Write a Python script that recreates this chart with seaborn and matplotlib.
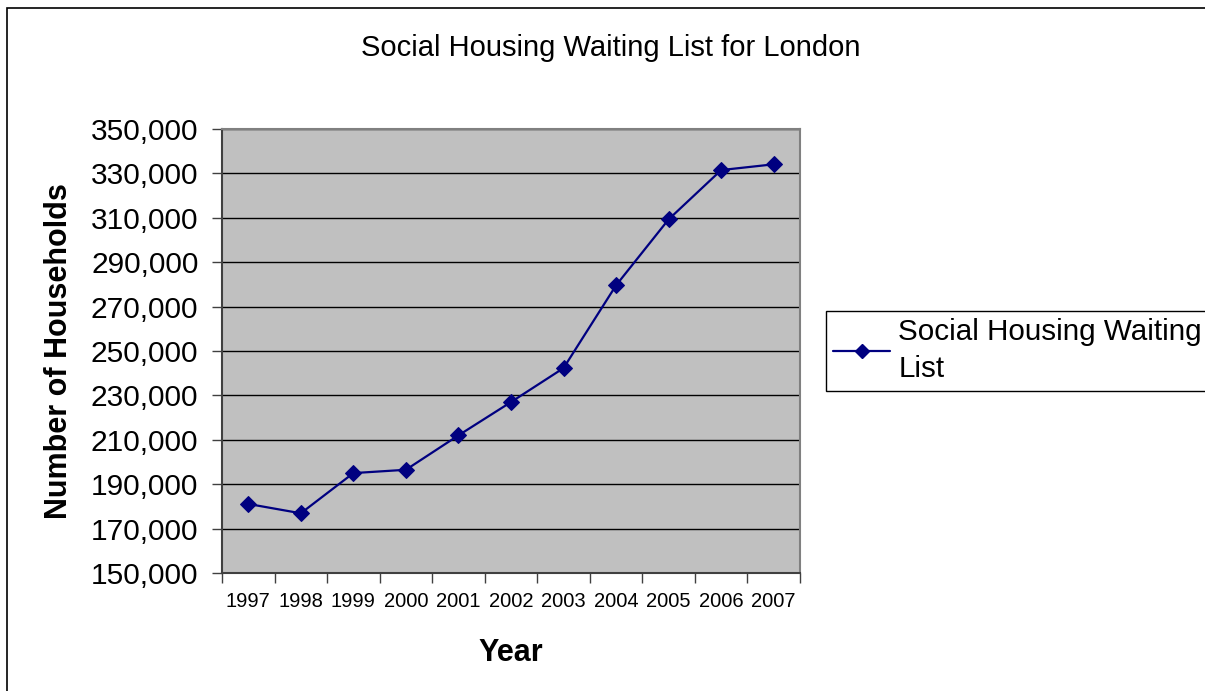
import matplotlib
matplotlib.use("Agg")
import matplotlib.pyplot as plt
import seaborn as sns
import numpy as np
import pandas as pd
from matplotlib.patches import Rectangle
from matplotlib.lines import Line2D
from matplotlib.ticker import FuncFormatter, FixedLocator

years = ["1997", "1998", "1999", "2000", "2001", "2002", "2003", "2004", "2005", "2006", "2007"]
households = [181100, 176900, 195000, 196500, 212000, 227000, 242300, 279600, 309300, 331500, 334100]
series_name = "Social Housing Waiting\nList"
title = "Social Housing Waiting List for London"
ytick_values = list(range(150000, 350001, 20000))

sns.set_theme(style="white")
plt.rcParams['font.family'] = ['Liberation Sans', 'DejaVu Sans']
plt.rcParams['text.color'] = 'black'
plt.rcParams['axes.labelcolor'] = 'black'
plt.rcParams['xtick.color'] = 'black'
plt.rcParams['ytick.color'] = 'black'

W, H = 1205, 691
fig = plt.figure(figsize=(W / 100, H / 100), dpi=100)
fig.patch.set_facecolor("white")

left, right, top, bottom = 222, 800, 129, 573
ax = fig.add_axes([left / W, 1 - bottom / H, (right - left) / W, (bottom - top) / H])
ax.set_facecolor("#C0C0C0")

df = pd.DataFrame({"Year": years, "Households": households})
sns.lineplot(data=df, x="Year", y="Households", ax=ax, color="#000080",
             marker="D", markersize=8, markeredgecolor="#000080", linewidth=1.6,
             sort=False, zorder=3)

ax.set_xlim(-0.5, len(years) - 0.5)
ax.set_ylim(150000, 350000)
ax.yaxis.set_major_locator(FixedLocator(ytick_values))
ax.yaxis.set_major_formatter(FuncFormatter(lambda v, p: f"{int(v):,}"))
ax.grid(axis="y", color="black", linewidth=1.0)
ax.grid(axis="x", visible=False)
ax.set_axisbelow(True)

# x ticks: marks at category boundaries, labels at centres
ax.set_xticks(np.arange(-0.5, len(years), 1.0))
ax.set_xticklabels([])
ax.set_xticks(np.arange(len(years)), minor=True)
ax.set_xticklabels(years, minor=True, fontsize=14.5)
ax.tick_params(axis="x", which="major", direction="out", length=7, width=1, color="#404040", bottom=True)
ax.tick_params(axis="x", which="minor", length=0, pad=14)
ax.tick_params(axis="y", which="major", direction="out", length=7, width=1, color="#404040", left=True,
               labelsize=21.5, pad=10)

for s in ax.spines.values():
    s.set_color("#808080")
    s.set_linewidth(1.5)
ax.spines["left"].set_color("#404040")
ax.spines["bottom"].set_color("#404040")

ax.set_xlabel("Year", fontsize=22, fontweight="bold", labelpad=19)
ax.set_ylabel("Number of Households", fontsize=22, fontweight="bold", labelpad=12)

fig.text(611 / W, 1 - 48 / H, title, ha="center", va="center", fontsize=21)

handle = Line2D([], [], color="#000080", marker="D", markersize=7, linewidth=1.6)
leg = fig.legend([handle], [series_name], loc="upper left",
                 bbox_to_anchor=(826 / W, 1 - 311 / H), fontsize=21.3, frameon=True,
                 fancybox=False, edgecolor="black", framealpha=1, handlelength=1.9,
                 borderpad=0.25, handletextpad=0.3, borderaxespad=0, labelspacing=0.3)
for t in leg.get_texts():
    t.set_linespacing(1.4)
    t.set_color("black")
leg.get_frame().set_linewidth(1.0)

fig.patches.append(Rectangle((7.5 / W, -0.02), 1.05, 1 - 7.5 / H + 0.02,
                             transform=fig.transFigure, fill=False,
                             edgecolor="black", linewidth=1.2))

fig.savefig("out.png", dpi=100)
